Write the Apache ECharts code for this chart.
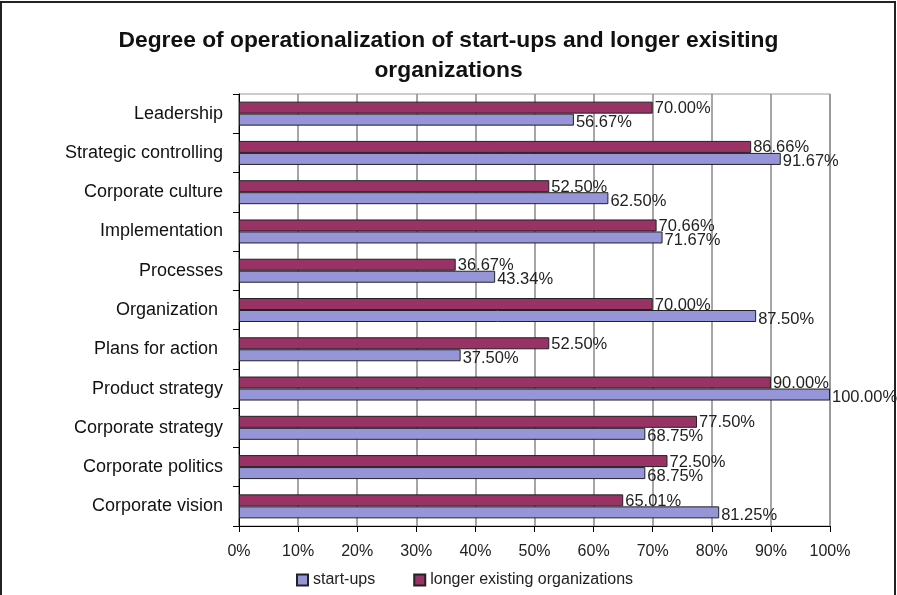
<!DOCTYPE html>
<html>
<head>
<meta charset="utf-8">
<script src="https://cdn.jsdelivr.net/npm/echarts@6/dist/echarts.min.js"></script>
<style>
  html, body { margin: 0; padding: 0; background: #fff; }
  #chart { width: 897px; height: 595px; }
</style>
</head>
<body>
<div id="chart"></div>
<script>
// Categories listed top to bottom
const categories = [
  'Leadership',
  'Strategic controlling',
  'Corporate culture',
  'Implementation',
  'Processes',
  'Organization ',
  'Plans for action ',
  'Product strategy',
  'Corporate strategy',
  'Corporate politics',
  'Corporate vision'
];

// Share of operationalization, in percent
const longerExisting = [70.00, 86.66, 52.50, 70.66, 36.67, 70.00, 52.50, 90.00, 77.50, 72.50, 65.01];
const startUps       = [56.67, 91.67, 62.50, 71.67, 43.34, 87.50, 37.50, 100.00, 68.75, 68.75, 81.25];

const xTicks = [0, 10, 20, 30, 40, 50, 60, 70, 80, 90, 100];

const FONT = '"Liberation Sans", Arial, sans-serif';

const chart = echarts.init(document.getElementById('chart'), null, { renderer: 'canvas' });

const labelStyle = (dy) => ({
  show: true,
  position: 'right',
  distance: 2,
  offset: [0, dy],
  color: '#222',
  fontFamily: FONT,
  fontSize: 16.5,
  formatter: (p) => p.value.toFixed(2) + '%'
});

chart.setOption({
  backgroundColor: '#fff',
  animation: false,
  title: {
    text: 'Degree of operationalization of start-ups and longer exisiting\norganizations',
    left: 'center',
    top: 21,
    textStyle: {
      fontFamily: FONT,
      fontSize: 22.8,
      fontWeight: 'bold',
      color: '#111',
      lineHeight: 30
    }
  },
  legend: {
    top: 567,
    left: 291,
    itemWidth: 11,
    itemHeight: 11,
    itemGap: 38,
    icon: 'rect',
    textStyle: { fontFamily: FONT, fontSize: 16, color: '#222' },
    data: ['start-ups', 'longer existing organizations']
  },
  grid: { left: 239, right: 67, top: 94, bottom: 69, containLabel: false,
          show: true, borderColor: '#999', borderWidth: 1 },
  xAxis: {
    type: 'value',
    min: 0,
    max: 100,
    interval: 10,
    axisLine: { show: true, lineStyle: { color: '#000', width: 1 } },
    axisTick: { show: true, inside: false, length: 6, lineStyle: { color: '#000' } },
    splitLine: { show: true, lineStyle: { color: '#888', width: 1.5 } },
    axisLabel: {
      margin: 18,
      color: '#222',
      fontFamily: FONT,
      fontSize: 16,
      customValues: xTicks,
      formatter: (v) => v + '%'
    }
  },
  yAxis: {
    type: 'category',
    inverse: true,
    data: categories,
    axisLine: { show: true, lineStyle: { color: '#000', width: 1 } },
    axisTick: { show: true, length: 6, lineStyle: { color: '#000' } },
    axisLabel: {
      margin: 16,
      color: '#111',
      fontFamily: FONT,
      fontSize: 18
    }
  },
  series: [
    {
      name: 'longer existing organizations',
      type: 'bar',
      data: longerExisting,
      barWidth: 12,
      barGap: '0%',
      itemStyle: { color: '#993366', borderColor: '#222', borderWidth: 1 },
      label: labelStyle(1)
    },
    {
      name: 'start-ups',
      type: 'bar',
      data: startUps,
      barWidth: 12,
      barGap: '0%',
      itemStyle: { color: '#9595d8', borderColor: '#222', borderWidth: 1 },
      label: labelStyle(3)
    }
  ],
  graphic: [{
    type: 'rect',
    shape: { x: 1, y: 2, width: 894, height: 600 },
    style: { fill: null, stroke: '#222', lineWidth: 2 },
    silent: true
  }]
});
</script>
</body>
</html>
